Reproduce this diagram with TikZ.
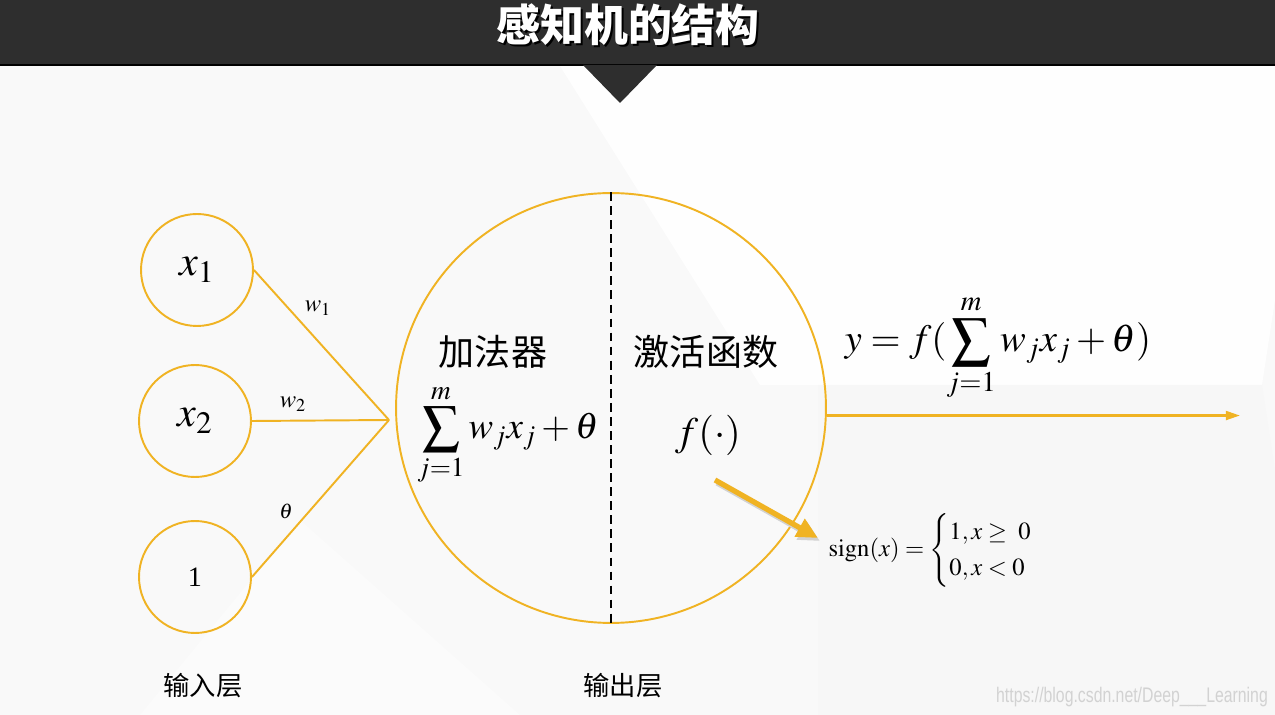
\documentclass[tikz,border=0pt]{standalone}
\usepackage{amsmath}
\usepackage{mathptmx}
\usepackage{fontspec}
\setmainfont{Liberation Serif}
\newfontfamily\cjk{Noto Sans CJK SC}
\newfontfamily\wmfont{Liberation Sans}
\usepackage{tikz}
\usetikzlibrary{arrows.meta}
\definecolor{gold}{HTML}{F0B323}
\definecolor{barcol}{HTML}{2E2E2E}

\begin{document}
\begin{tikzpicture}
    [ x=0.02cm, y=-0.02cm
    , unit/.style={circle, draw=gold, line width=1.1pt, minimum size=2.24cm, inner sep=0pt, font=\fontsize{24}{28}\selectfont}
    , neuron/.style={circle, draw=gold, line width=1.1pt, minimum size=8.6cm, inner sep=0pt}
    , link/.style={draw=gold, line width=1.1pt}
    , weight/.style={font=\fontsize{14}{16}\selectfont}
    , cnlabel/.style={font=\cjk\fontsize{20.5}{24}\selectfont}
    , layer/.style={font=\cjk\fontsize{15}{18}\selectfont}
    , bigmath/.style={font=\fontsize{21}{25}\selectfont}
    ]
\useasboundingbox (0,0) rectangle (1275,715);
% background
\fill[gray!5] (0,0) rectangle (1275,715);
\fill[white!60!gray!2] (560,66) -- (1275,66) -- (1275,300) -- (1262,385) -- (760,385) -- cycle;
\fill[gray!6] (818,385) -- (1262,385) -- (1275,470) -- (1275,715) -- (818,715) -- cycle;
\fill[gray!3] (140,715) -- (300,520) -- (520,715) -- cycle;
% title bar
\fill[barcol] (0,0) rectangle (1275,65);
\draw[black, line width=1pt] (0,65) -- (1275,65);
\fill[barcol] (583,65) -- (657,65) -- (620,103) -- cycle;
\node[font=\cjk\bfseries\fontsize{25}{30}\selectfont, text=black] at (630,27) {感知机的结构};
\node[font=\cjk\bfseries\fontsize{25}{30}\selectfont, text=white] (title) at (628,25) {感知机的结构};

% input layer
\node[unit] (x1) at (197,270) {$x_1$};
\node[unit] (x2) at (195,421) {$x_2$};
\node[unit, font=\fontsize{16}{19}\selectfont] (bias) at (195,577) {1};

% output unit
\node[neuron] (sum) at (611,408) {};
\coordinate (in) at (389,420);
\draw[link] (x1.east) -- (in);
\draw[link] (x2.east) -- (in);
\draw[link] (bias.east) -- (in);
\node[weight] (w1) at (318,308) {$w_1$};
\node[weight] (w2) at (293,404) {$w_2$};
\node[weight, font=\fontsize{12}{14}\selectfont] (th) at (286,511) {$\theta$};
\draw[dashed, line width=1.1pt, dash pattern=on 5pt off 3pt] (sum.north) -- (sum.south);

\node[cnlabel] (adder) at (493,352) {加法器};
\node[cnlabel] (act) at (706,352) {激活函数};
\node[bigmath] (sumf) at (508,435) {$\displaystyle\sum_{j=1}^{m} w_j x_j + \theta$};
\node[bigmath, font=\fontsize{23}{27}\selectfont] (fdot) at (708,435) {$f(\cdot)$};

% output
\coordinate (out) at (1240,415);
\draw[link, line width=1.4pt, -{Triangle[length=8pt, width=5pt]}] (sum.-2) -- (sum.-2 -| out);
\node[bigmath, font=\fontsize{22}{26}\selectfont] (yf) at (998,348) {$y = f(\displaystyle\sum_{j=1}^{m} w_j x_j + \theta)$};

% sign function
\coordinate (ps) at (715,480);
\coordinate (pe) at (818,538);
\draw[gray!35, line width=3pt, -{Triangle[length=12pt, width=11pt]}] ([shift={(2,3)}]ps) -- ([shift={(2,3)}]pe);
\draw[gold, line width=3pt, -{Triangle[length=12pt, width=11pt]}] (ps) -- (pe);
\node[font=\fontsize{14}{17}\selectfont] (sign) at (943,550) {$\mathrm{sign}(x) = \begin{cases} 1, x \geq\ 0 \\ 0, x < 0 \end{cases}$};

% layer names
\node[layer] (inl) at (203,686) {输入层};
\node[layer] (outl) at (623,686) {输出层};
\node[text=gray!35, font=\wmfont\fontsize{12}{14}\selectfont] (wm) at (1132,697) {\scalebox{0.75}[1]{https://blog.csdn.net/Deep\_\_\_Learning}};
\end{tikzpicture}
\end{document}
